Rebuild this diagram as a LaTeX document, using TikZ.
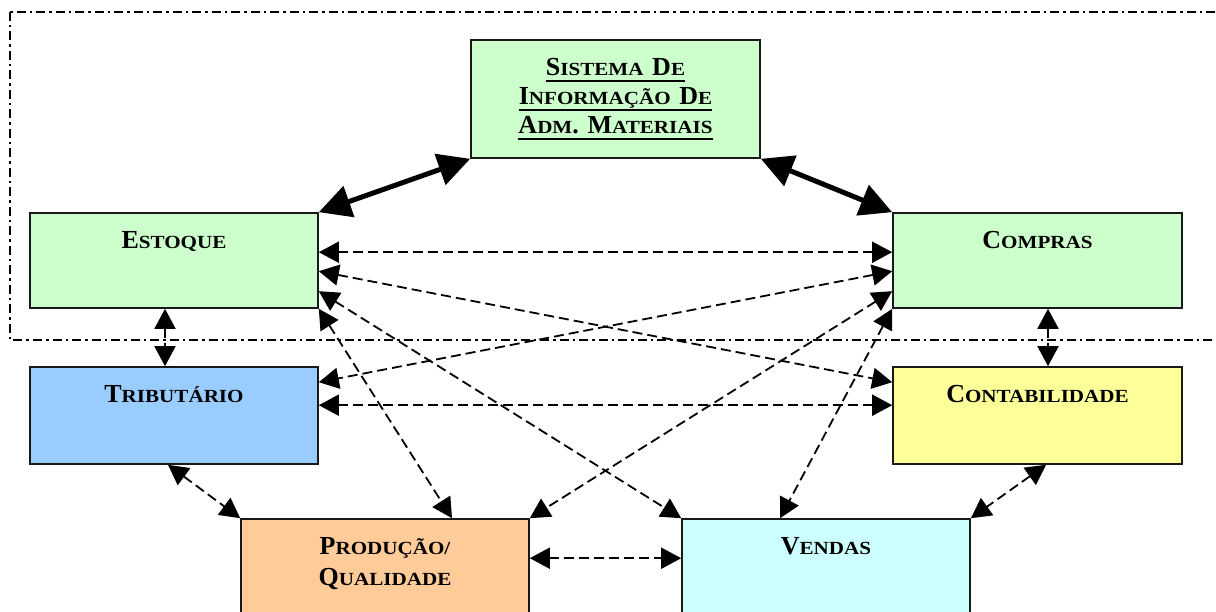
\documentclass[tikz,border=0pt]{standalone}
\usepackage{fontspec}
\setmainfont{Liberation Serif}
\newfontfamily\smallcapsfont{Liberation Serif}[FakeStretch=1.14]
\usetikzlibrary{positioning, arrows.meta}
\definecolor{boxgreen}{RGB}{204,255,204}
\definecolor{boxblue}{RGB}{153,204,255}
\definecolor{boxyellow}{RGB}{255,255,153}
\definecolor{boxorange}{RGB}{255,204,153}
\definecolor{boxcyan}{RGB}{204,255,255}
\newcommand{\sm}[1]{{\smallcapsfont\fontsize{18.5}{29}\selectfont #1}}
\newcommand{\uln}[1]{\leavevmode\setbox0=\hbox{#1}\rlap{\rule[-6.5pt]{\wd0}{1.8pt}}\box0}

\begin{document}
\begin{tikzpicture}
    [
        x=1pt, y=-1pt, node distance=155pt and 863.5pt, on grid,
        plain_box/.style={rectangle, draw=black!90, line width=1.6pt, fill=#1, minimum width=288pt, minimum height=97pt, inner sep=0pt},
        box_text/.style={anchor=base, yshift=-36pt, text width=280pt, align=center, font=\fontsize{26}{29}\selectfont\bfseries},
        thick_arrow/.style={arrows={Triangle[length=32pt, width=32pt]-Triangle[length=32pt, width=32pt]}, line width=5pt},
        dashed_arrow/.style={arrows={Triangle[length=20pt, width=21pt]-Triangle[length=20pt, width=21pt]}, line width=1.8pt, dash pattern=on 10pt off 5pt},
    ]
        \useasboundingbox (0,0) rectangle (1216,612);
        % frame around the materials part
        \draw[line width=1.6pt, dash pattern=on 9pt off 4pt on 2.5pt off 4pt] (10,12) rectangle (1240,340);

        \node[plain_box=boxgreen, minimum height=95pt, label={[box_text]north:{E\sm{STOQUE}}}] (estoque) at (174,260.5) {};
        \node[plain_box=boxgreen, minimum width=289pt, minimum height=118pt, label={[box_text]north:{\uln{S\sm{ISTEMA} D\sm{E}}\\ \uln{I\sm{NFORMAÇÃO} D\sm{E}}\\ \uln{A\sm{DM}. M\sm{ATERIAIS}}}}] (sistema) [above right = 161.5pt and 441.5pt of estoque] {};
        \node[plain_box=boxgreen, minimum width=289pt, minimum height=95pt, label={[box_text]north:{C\sm{OMPRAS}}}] (compras) [right = of estoque] {};
        \node[plain_box=boxblue, label={[box_text]north:{T\sm{RIBUTÁRIO}}}] (tributario) [below = of estoque] {};
        \node[plain_box=boxyellow, minimum width=289pt, label={[box_text]north:{C\sm{ONTABILIDADE}}}] (contabilidade) [below = of compras] {};
        \node[plain_box=boxorange, label={[box_text]north:{P\sm{RODUÇÃO/}\\[2pt] Q\sm{UALIDADE}}}] (producao) [below right = 152pt and 211pt of tributario] {};
        \node[plain_box=boxcyan, label={[box_text]north:{V\sm{ENDAS}}}] (vendas) [right = 441pt of producao] {};

        \draw[thick_arrow] (sistema.south west) -- (estoque.north east) ;
        \draw[thick_arrow] (sistema.south east) -- (compras.north west) ;

        \draw[dashed_arrow] ([yshift=-40pt]estoque.north east) -- ([yshift=-40pt]compras.north west) ;
        \draw[dashed_arrow] ([yshift=-59pt]estoque.north east) -- ([yshift=-16pt]contabilidade.north west) ;
        \draw[dashed_arrow] ([yshift=-59pt]compras.north west) -- ([yshift=-16pt]tributario.north east) ;
        \draw[dashed_arrow] ([yshift=-39pt]tributario.north east) -- ([yshift=-39pt]contabilidade.north west) ;
        \draw[dashed_arrow] ([yshift=-79pt]estoque.north east) -- (vendas.north west) ;
        \draw[dashed_arrow] ([yshift=-79pt]compras.north west) -- (producao.north east) ;
        \draw[dashed_arrow] (estoque.south east) -- ([xshift=67pt]producao.north) ;
        \draw[dashed_arrow] (compras.south west) -- ([xshift=-46pt]vendas.north) ;
        \draw[dashed_arrow] ([xshift=-9pt]estoque.south) -- ([xshift=-9pt]tributario.north) ;
        \draw[dashed_arrow] ([xshift=10.5pt]compras.south) -- ([xshift=10.5pt]contabilidade.north) ;
        \draw[dashed_arrow] ([xshift=-6pt]tributario.south) -- (producao.north west) ;
        \draw[dashed_arrow] ([xshift=8.5pt]contabilidade.south) -- (vendas.north east) ;
        \draw[dashed_arrow] ([yshift=-40pt]producao.north east) -- ([yshift=-40pt]vendas.north west) ;
    \end{tikzpicture}
\end{document}
